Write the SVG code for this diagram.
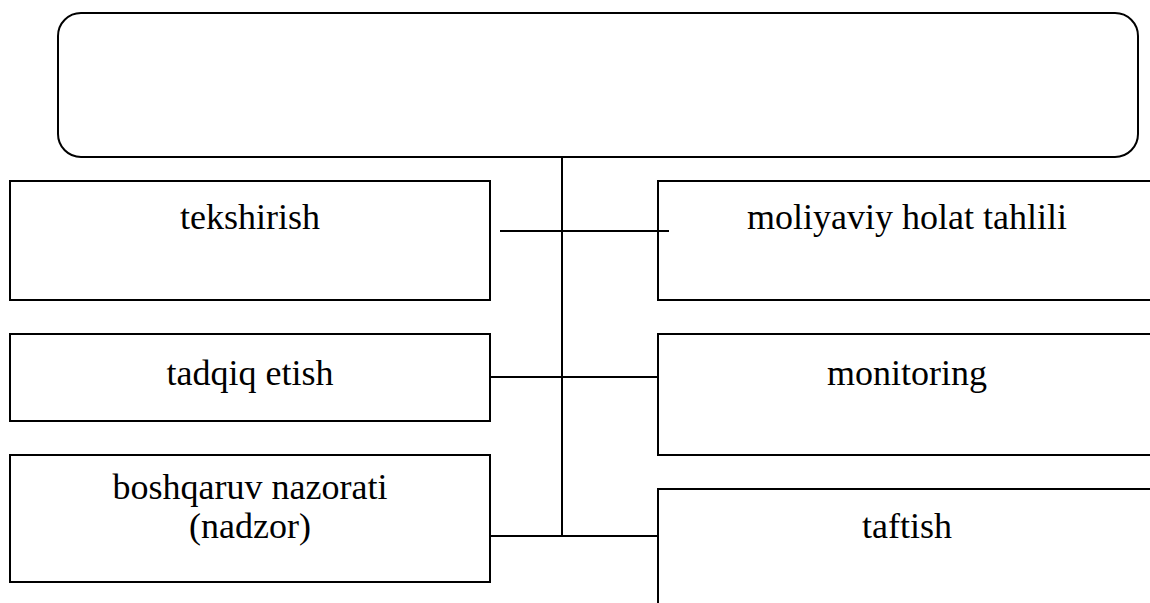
<svg xmlns="http://www.w3.org/2000/svg" width="1150" height="603" viewBox="0 0 1150 603">
<style>
.box{fill:#fff;stroke:#000;stroke-width:2}
.ln{stroke:#000;stroke-width:2;fill:none}
.t{font-family:"Liberation Serif","Times New Roman",serif;font-size:36px;fill:#000;text-anchor:middle}
</style>
<rect width="1150" height="603" fill="#fff"/>
<g id="top"><rect class="box" x="58" y="13" width="1080" height="144" rx="23" ry="23"/></g>
<g id="n-tekshirish"><rect class="box" x="10" y="181" width="480" height="119"/><text class="t" x="250" y="229">tekshirish</text></g>
<g id="n-tadqiq"><rect class="box" x="10" y="334" width="480" height="87"/><text class="t" x="250" y="385">tadqiq etish</text></g>
<g id="n-boshqaruv"><rect class="box" x="10" y="455" width="480" height="127"/><text class="t" x="250" y="499">boshqaruv nazorati</text><text class="t" x="250" y="538">(nadzor)</text></g>
<g id="n-moliyaviy"><rect class="box" x="658" y="181" width="500" height="119"/><text class="t" x="907" y="229">moliyaviy holat tahlili</text></g>
<g id="n-monitoring"><rect class="box" x="658" y="334" width="500" height="121"/><text class="t" x="907" y="385">monitoring</text></g>
<g id="n-taftish"><rect class="box" x="658" y="489" width="500" height="130"/><text class="t" x="907" y="538">taftish</text></g>
<g id="connectors">
<line class="ln" x1="562" y1="157" x2="562" y2="536"/>
<line class="ln" x1="500" y1="231" x2="669" y2="231"/>
<line class="ln" x1="490" y1="377" x2="658" y2="377"/>
<line class="ln" x1="490" y1="536" x2="658" y2="536"/>
</g>
</svg>
